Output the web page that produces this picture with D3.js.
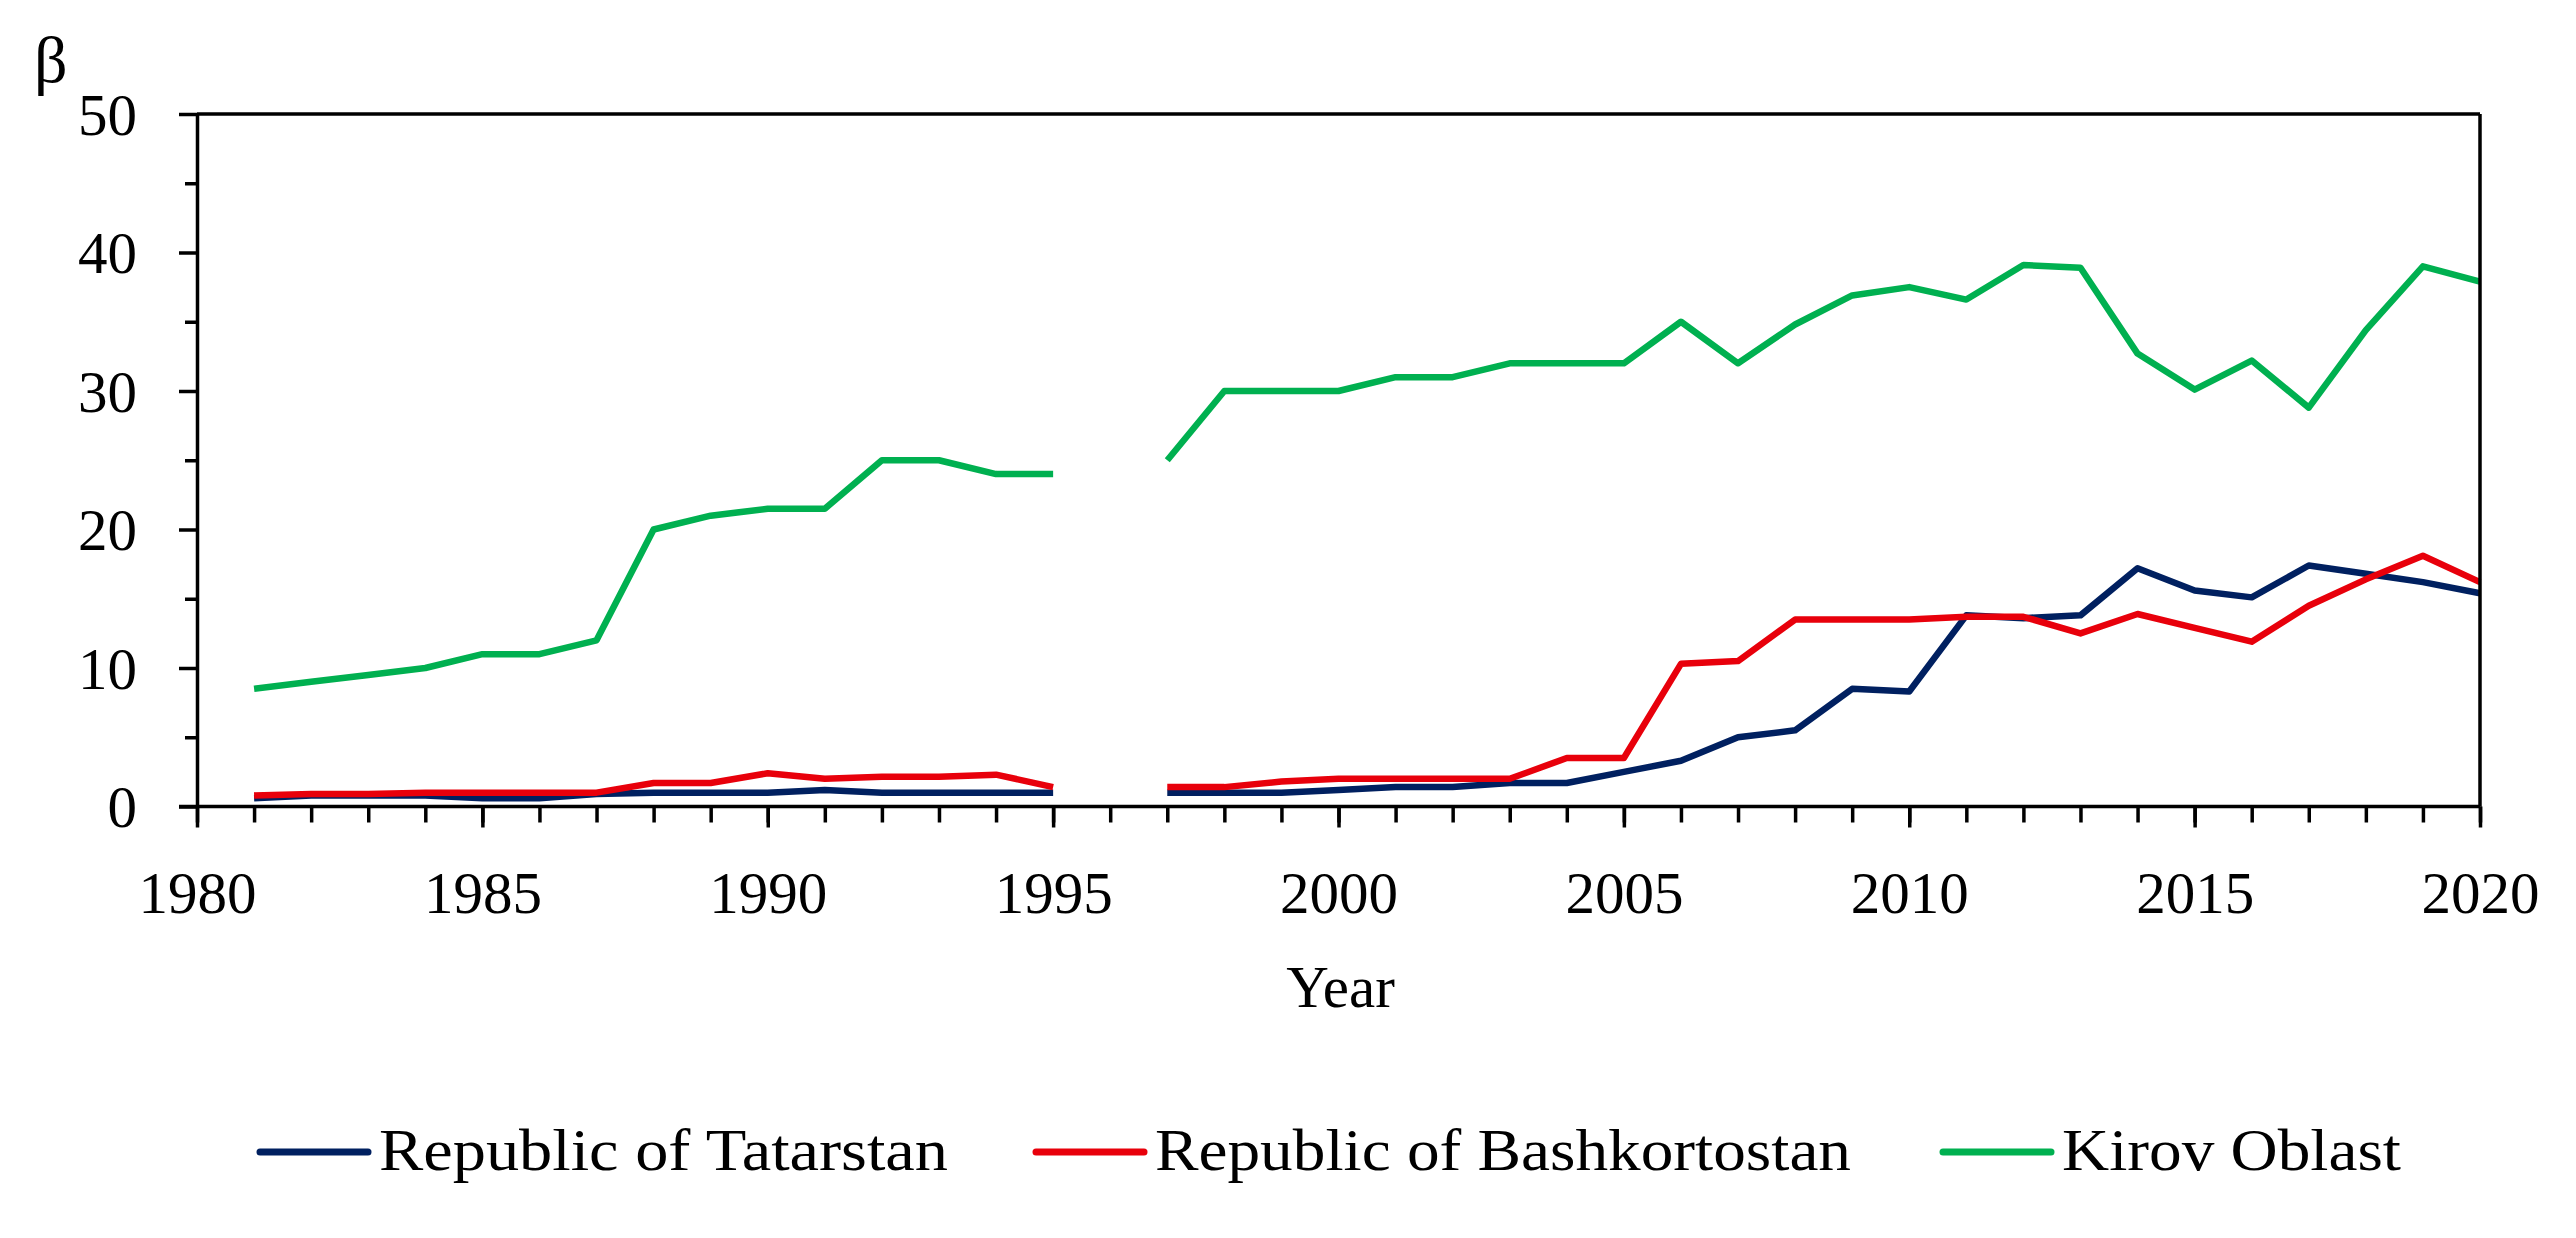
<!DOCTYPE html>
<html>
<head>
<meta charset="utf-8">
<script src="https://cdn.jsdelivr.net/npm/d3@7"></script>
<style>
  html, body { margin: 0; padding: 0; background: #fff; }
  svg { display: block; }
  text { font-family: "Liberation Serif", "DejaVu Serif", serif; fill: #000; }
</style>
</head>
<body>
<svg id="chart" width="2576" height="1238"></svg>
<script>
// ---- data ----
const years = d3.range(1981, 2021);
const seriesNames = ["Republic of Tatarstan", "Republic of Bashkortostan", "Kirov Oblast"];
const tatarstan = [0.6,0.8,0.8,0.8,0.6,0.6,0.9,1.0,1.0,1.0,1.2,1.0,1.0,1.0,1.0,null,
  1.0,1.0,1.0,1.2,1.4,1.4,1.7,1.7,2.5,3.3,5.0,5.5,8.5,8.3,13.8,13.6,13.8,17.2,15.6,15.1,17.4,16.8,16.2,15.4];
const bashkortostan = [0.8,0.9,0.9,1.0,1.0,1.0,1.0,1.7,1.7,2.4,2.0,2.15,2.15,2.3,1.4,null,
  1.4,1.4,1.8,2.0,2.0,2.0,2.0,3.5,3.5,10.3,10.5,13.5,13.5,13.5,13.7,13.7,12.5,13.9,12.9,11.9,14.5,16.4,18.1,16.2];
const kirov = [8.5,9.0,9.5,10.0,11.0,11.0,12.0,20.0,21.0,21.5,21.5,25.0,25.0,24.0,24.0,null,
  25.0,30.0,30.0,30.0,31.0,31.0,32.0,32.0,32.0,35.0,32.0,34.8,36.9,37.5,36.6,39.1,38.9,32.7,30.1,32.2,28.8,34.4,39.0,37.9];
const colors = ["#002060", "#E8000B", "#00B050"];
const xMajorTicks = d3.range(1980, 2021, 5);
const xMinorTicks = d3.range(1980, 2021, 1);
const yMajorTicks = [0, 10, 20, 30, 40, 50];
const yMinorTicks = [5, 15, 25, 35, 45];
const xTitle = "Year";
const yTitle = "β";

// ---- layout ----
const svg = d3.select("#chart");
const L = 197, R = 2480, T = 114, B = 806.5;
const FS = 59;
const AX = 3.5;

const x = d3.scaleLinear().domain([1980, 2020]).range([L, R]);
const y = d3.scaleLinear().domain([0, 50]).range([B, T]);

// lines
const line = d3.line()
  .defined(d => d.v !== null)
  .x(d => x(d.year))
  .y(d => y(d.v));

const allSeries = [tatarstan, bashkortostan, kirov];
allSeries.forEach((vals, i) => {
  const pts = years.map((yr, j) => ({ year: yr, v: vals[j] }));
  svg.append("path")
    .datum(pts)
    .attr("fill", "none")
    .attr("stroke", colors[i])
    .attr("stroke-width", 6.5)
    .attr("stroke-linejoin", "round")
    .attr("stroke-linecap", "butt")
    .attr("d", line);
});

// frame: top and right
svg.append("line").attr("x1", x(1980)).attr("x2", x(2020)).attr("y1", y(50)).attr("y2", y(50))
  .attr("stroke", "#000").attr("stroke-width", AX);
svg.append("line").attr("x1", x(2020)).attr("x2", x(2020)).attr("y1", y(50)).attr("y2", y(0))
  .attr("stroke", "#000").attr("stroke-width", AX);

// y axis
function styleAxis(g) {
  g.selectAll("path.domain").attr("stroke", "#000").attr("stroke-width", AX);
  g.selectAll(".tick line").attr("stroke", "#000").attr("stroke-width", AX);
}
const yMinorG = svg.append("g").attr("transform", `translate(${L},0)`)
  .call(d3.axisLeft(y).tickValues(yMinorTicks).tickSize(12).tickFormat(""));
yMinorG.select(".domain").remove();
styleAxis(yMinorG);

const yG = svg.append("g").attr("transform", `translate(${L},0)`)
  .call(d3.axisLeft(y).tickValues(yMajorTicks).tickSize(18).tickSizeOuter(0).tickPadding(42).tickFormat(d3.format("d")));
styleAxis(yG);
yG.selectAll(".tick text")
  .attr("font-family", '"Liberation Serif", serif')
  .attr("font-size", FS)
  .attr("fill", "#000")
  .attr("dy", "0.34em");

// x axis
const xMinorG = svg.append("g").attr("transform", `translate(0,${B})`)
  .call(d3.axisBottom(x).tickValues(xMinorTicks).tickSize(16).tickFormat(""));
xMinorG.select(".domain").remove();
styleAxis(xMinorG);

const xG = svg.append("g").attr("transform", `translate(0,${B})`)
  .call(d3.axisBottom(x).tickValues(xMajorTicks).tickSize(21).tickSizeOuter(0).tickPadding(44).tickFormat(d3.format("d")));
styleAxis(xG);
xG.select("path.domain").attr("d", `M${L - 18},0H${R}`);
xG.selectAll(".tick text")
  .attr("font-family", '"Liberation Serif", serif')
  .attr("font-size", FS)
  .attr("fill", "#000")
  .attr("dy", "0.71em");

// titles
svg.append("text")
  .attr("x", (L + R) / 2 + 2).attr("y", 1007)
  .attr("text-anchor", "middle")
  .attr("font-size", FS)
  .text(xTitle);

svg.append("text")
  .attr("x", 34).attr("y", 82)
  .attr("font-size", 66)
  .text(yTitle);

// legend
const legendLineX = [260, 1036, 1943];
const legendTextW = [569, 696, 339];
const legendY = 1152;
seriesNames.forEach((name, i) => {
  const g = svg.append("g");
  g.append("line")
    .attr("x1", legendLineX[i]).attr("x2", legendLineX[i] + 108)
    .attr("y1", legendY).attr("y2", legendY)
    .attr("stroke", colors[i]).attr("stroke-width", 7)
    .attr("stroke-linecap", "round");
  g.append("text")
    .attr("x", legendLineX[i] + 119).attr("y", 1170)
    .attr("font-size", FS)
    .attr("textLength", legendTextW[i])
    .attr("lengthAdjust", "spacingAndGlyphs")
    .text(name);
});
</script>
</body>
</html>
